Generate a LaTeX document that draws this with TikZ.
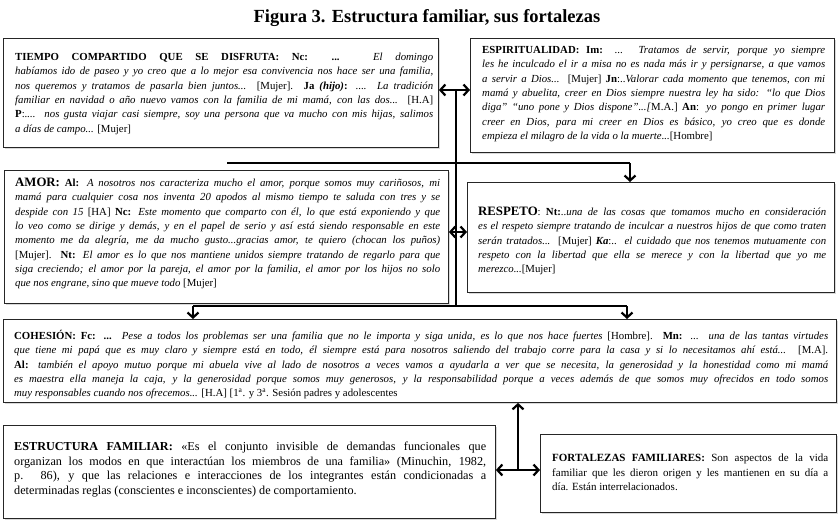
\documentclass[tikz,border=0pt]{standalone}
\usepackage{fontspec}
\setmainfont{Liberation Serif}
\usetikzlibrary{arrows.meta,shadows}
\begin{document}
\begin{tikzpicture}[x=1pt,y=-1pt,
  box/.style={draw=black!85, line width=0.9pt, fill=white, anchor=north west, inner sep=0pt,
    drop shadow={opacity=0.3, shadow xshift=2pt, shadow yshift=-2pt}},
  txt/.style={anchor=north west, inner sep=0pt, align=justify, font=\fontsize{10.8}{14.3}\selectfont},
  conn/.style={line width=2.4pt, black},
  tipd/.style={-{Straight Barb[length=5pt,width=11pt,line width=2.2pt]}},
  tipb/.style={{Straight Barb[length=5pt,width=11pt,line width=2.2pt]}-{Straight Barb[length=5pt,width=11pt,line width=2.2pt]}}
]
\useasboundingbox (0,0) rectangle (840,519);

\node[font=\fontsize{18.5}{22}\selectfont\bfseries] (title) at (427,18) {Figura 3. Estructura familiar, sus fortalezas};

% boxes
\node[box, minimum width=435pt, minimum height=109pt] (b1) at (3,38) {};
\node[box, minimum width=364pt, minimum height=114pt] (b2) at (470,38) {};
\node[box, minimum width=444pt, minimum height=133pt] (b3) at (4,170) {};
\node[box, minimum width=367pt, minimum height=110pt] (b4) at (467,182) {};
\node[box, minimum width=833pt, minimum height=83pt] (b5) at (3,319) {};
\node[box, minimum width=492pt, minimum height=93pt] (b6) at (3,425) {};
\node[box, minimum width=296pt, minimum height=78pt] (b7) at (540,434) {};

% texts
\node[txt, text width=418pt] (t1) at (15,53) {%
\textbf{TIEMPO COMPARTIDO QUE SE DISFRUTA: Nc: ...} \textit{El domingo}\linebreak
\textit{habíamos ido de paseo y yo creo que a lo mejor esa convivencia nos hace ser una familia,}\linebreak
\textit{nos queremos y tratamos de pasarla bien juntos...} {[}Mujer]. \textbf{Ja \textit{(hijo)}:} \textit{.... La tradición}\linebreak
\textit{familiar en navidad o año nuevo vamos con la familia de mi mamá, con las dos...} {[}H.A]\linebreak
\textbf{P}:\textit{.... nos gusta viajar casi siempre, soy una persona que va mucho con mis hijas, salimos}\linebreak
\textit{a días de campo...} {[}Mujer]};

\node[txt, text width=343pt] (t2) at (482,46) {%
\textbf{ESPIRITUALIDAD: Im:} ... \textit{Tratamos de servir, porque yo siempre}\linebreak
\textit{les he inculcado el ir a misa no es nada más ir y persignarse, a que vamos}\linebreak
\textit{a servir a Dios...} {[}Mujer] \textbf{Jn}:..\textit{Valorar cada momento que tenemos, con mi}\linebreak
\textit{mamá y abuelita, creer en Dios siempre nuestra ley ha sido: “lo que Dios}\linebreak
\textit{diga” “uno pone y Dios dispone”...{[}}M.A.] \textbf{An}: \textit{yo pongo en primer lugar}\linebreak
\textit{creer en Dios, para mi creer en Dios es básico, yo creo que es donde}\linebreak
\textit{empieza el milagro de la vida o la muerte...}{[}Hombre]};

\node[txt, text width=425pt] (t3) at (15,178) {%
{\fontsize{12.8}{14}\selectfont\textbf{AMOR:}} \textbf{Al:} \textit{A nosotros nos caracteriza mucho el amor, porque somos muy cariñosos, mi}\linebreak
\textit{mamá para cualquier cosa nos inventa 20 apodos al mismo tiempo te saluda con tres y se}\linebreak
\textit{despide con 15} {[}HA] \textbf{Nc:} \textit{Este momento que comparto con él, lo que está exponiendo y que}\linebreak
\textit{lo veo como se dirige y demás, y en el papel de serio y así está siendo responsable en este}\linebreak
\textit{momento me da alegría, me da mucho gusto...gracias amor, te quiero (chocan los puños)}\linebreak
{[}Mujer]. \textbf{Nt:} \textit{El amor es lo que nos mantiene unidos siempre tratando de regarlo para que}\linebreak
\textit{siga creciendo; el amor por la pareja, el amor por la familia, el amor por los hijos no solo}\linebreak
\textit{que nos engrane, sino que mueve todo} {[}Mujer]};

\node[txt, text width=348pt] (t4) at (478,207) {%
{\fontsize{12.8}{14}\selectfont\textbf{RESPETO}}: \textbf{Nt:}..\textit{una de las cosas que tomamos mucho en consideración}\linebreak
\textit{es el respeto siempre tratando de inculcar a nuestros hijos de que como traten}\linebreak
\textit{serán tratados...} {[}Mujer] \textbf{\textit{Ka}}:.. \textit{el cuidado que nos tenemos mutuamente con}\linebreak
\textit{respeto con la libertad que ella se merece y con la libertad que yo me}\linebreak
\textit{merezco...}{[}Mujer]};

\node[txt, text width=814pt] (t5) at (14,330) {%
\textbf{COHESIÓN: Fc: ...} \textit{Pese a todos los problemas ser una familia que no le importa y siga unida, es lo que nos hace fuertes} {[}Hombre]. \textbf{Mn:} ... \textit{una de las tantas virtudes}\linebreak
\textit{que tiene mi papá que es muy claro y siempre está en todo, él siempre está para nosotros saliendo del trabajo corre para la casa y si lo necesitamos ahí está...} {[}M.A].\linebreak
\textbf{Al:} \textit{también el apoyo mutuo porque mi abuela vive al lado de nosotros a veces vamos a ayudarla a ver que se necesita, la generosidad y la honestidad como mi mamá}\linebreak
\textit{es maestra ella maneja la caja, y la generosidad porque somos muy generosos, y la responsabilidad porque a veces además de que somos muy ofrecidos en todo somos}\linebreak
\textit{muy responsables cuando nos ofrecemos...} {[}H.A] {[}1\textsuperscript{a}. y 3\textsuperscript{a}. Sesión padres y adolescentes};

\node[txt, text width=472pt, font=\fontsize{12.2}{14.5}\selectfont] (t6) at (14,442) {%
\textbf{ESTRUCTURA FAMILIAR:} «Es el conjunto invisible de demandas funcionales que\linebreak
organizan los modos en que interactúan los miembros de una familia» (Minuchin, 1982,\linebreak
p. 86), y que las relaciones e interacciones de los integrantes están condicionadas a\linebreak
determinadas reglas (conscientes e inconscientes) de comportamiento.};

\node[txt, text width=276pt, font=\fontsize{11}{14.5}\selectfont] (t7) at (552,454) {%
\textbf{FORTALEZAS FAMILIARES:} Son aspectos de la vida\linebreak
familiar que les dieron origen y les mantienen en su día a\linebreak
día. Están interrelacionados.};

% connectors
\coordinate (jtop) at (456,90);
\coordinate (jbot) at (456,306);
\coordinate (la) at (227,163);
\coordinate (ra) at (630,163);
\coordinate (cl) at (193,306);
\coordinate (cr) at (627,306);
\coordinate (jm) at (456,232);
\coordinate (ja) at (518,470);

\draw[conn] (jtop) -- (jbot);
\draw[conn, tipb] (b1.east |- jtop) -- (b2.west |- jtop);
\draw[conn] (la) -- (ra);
\draw[conn, tipd] (ra) -- (ra |- b4.north);
\draw[conn, tipb] (b3.east |- jm) -- (b4.west |- jm);
\draw[conn] (cl) -- (cr);
\draw[conn, tipd] (cl) -- (cl |- b5.north);
\draw[conn, tipd] (cr) -- (cr |- b5.north);
\draw[conn, line width=2pt, tipb] (b6.east |- ja) -- (b7.west |- ja);
\draw[conn, line width=2pt, tipd] (ja) -- (ja |- b5.south);
\end{tikzpicture}
\end{document}
